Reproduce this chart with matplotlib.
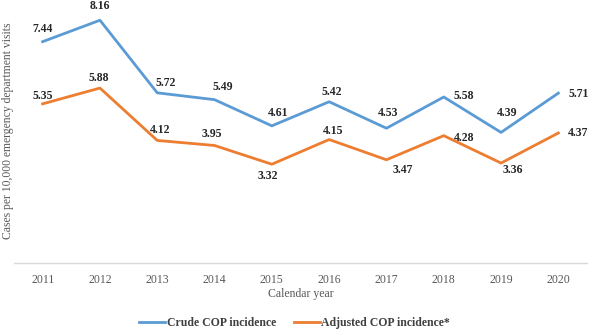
import numpy as np
import matplotlib.pyplot as plt

years = ["2011", "2012", "2013", "2014", "2015", "2016", "2017", "2018", "2019", "2020"]
crude = [7.44, 8.16, 5.72, 5.49, 4.61, 5.42, 4.53, 5.58, 4.39, 5.71]
adjusted = [5.35, 5.88, 4.12, 3.95, 3.32, 4.15, 3.47, 4.28, 3.36, 4.37]

# label offsets from each point, in pixels (dx, dy up)
crude_off = [(0, 13), (0, 14), (8, 10), (8, 13), (6, 13), (3, 10), (2, 15), (20, 1), (6, 19), (20, -1)]
adj_off = [(0, 8), (-1, 10), (3, 10), (-3, 11), (-4, -12), (4, 9), (16, -10), (20, -2), (12, -7), (20, 0)]

plt.rcParams['font.family'] = ['Liberation Serif', 'DejaVu Serif']

fig = plt.figure(figsize=(5.89, 3.32), dpi=100)
ax = fig.add_axes([14/589, 69/332, 573/589, 258/332])

x = np.arange(len(years))
blue = '#5B9BD5'
orange = '#ED7D31'
ax.plot(x, crude, color=blue, lw=2, label='Crude COP incidence')
ax.plot(x, adjusted, color=orange, lw=2, label='Adjusted COP incidence*')

px = 72 / 100
for vals, offs in [(crude, crude_off), (adjusted, adj_off)]:
    for xi, v, (dx, dy) in zip(x, vals, offs):
        ax.annotate(f"{v:.2f}", (xi, v), xytext=(dx*px, dy*px), textcoords='offset points',
                    ha='center', va='center', fontsize=8.5, fontweight='bold', color='#262626',
                    annotation_clip=False)

ax.set_xlim(-0.5, 9.5)
ax.set_ylim(0, 258 / 29.75)
ax.set_xticks(x)
ax.set_xticklabels(years, fontsize=8.5, color='#595959')
ax.tick_params(axis='x', length=0, pad=8)
ax.set_yticks([])
for s in ['top', 'right', 'left']:
    ax.spines[s].set_visible(False)
ax.spines['bottom'].set_color('#D9D9D9')
ax.spines['bottom'].set_linewidth(1)

ax.set_xlabel('Calendar year', fontsize=8.5, color='#595959', labelpad=1)
fig.text(8/589, 1 - 131/332, 'Cases per 10,000 emergency department visits', rotation=90,
         ha='center', va='center', fontsize=8.4, color='#595959')

leg = fig.legend(loc='center', bbox_to_anchor=(0.5, 9/332), ncol=2, frameon=False,
                 prop={'weight': 'bold', 'size': 8.5}, handlelength=2.2,
                 handletextpad=0.1, columnspacing=1.5)
for t in leg.get_texts():
    t.set_color('#404040')

fig.savefig('out.png', dpi=100)
